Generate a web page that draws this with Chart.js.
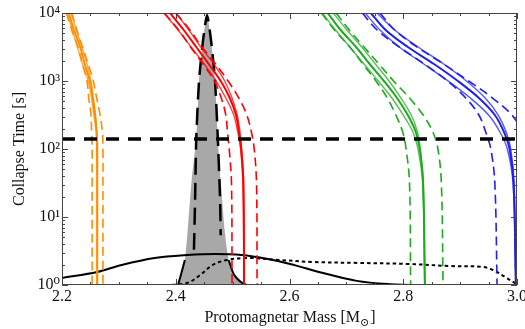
<!DOCTYPE html>
<html>
<head>
<meta charset="utf-8">
<title>Collapse time vs protomagnetar mass</title>
<script src="https://cdn.jsdelivr.net/npm/chart.js@4.4.1/dist/chart.umd.min.js"></script>
<style>
  html, body { margin: 0; padding: 0; background: #fff; }
  canvas { display: block; }
</style>
</head>
<body>
<canvas id="chart" width="525" height="329"></canvas>
<script>
// collapse times (s) at which every mass track is sampled
var trackTimes = [10000, 5623, 3162, 1778, 1000, 562, 316, 178, 100, 31.6, 1];

// orange tracks (masses, Msun)
var orangeDashLo = [2.208, 2.217, 2.228, 2.236, 2.244, 2.247, 2.251, 2.252, 2.253, 2.253, 2.253];
var orangeLo     = [2.209, 2.218, 2.227, 2.236, 2.246, 2.252, 2.256, 2.260, 2.261, 2.262, 2.262];
var orangeMid    = [2.212, 2.221, 2.232, 2.240, 2.249, 2.254, 2.258, 2.261, 2.262, 2.262, 2.262];
var orangeHi     = [2.216, 2.225, 2.235, 2.244, 2.251, 2.255, 2.259, 2.261, 2.262, 2.262, 2.262];
var orangeDashHi = [2.217, 2.226, 2.236, 2.246, 2.255, 2.261, 2.267, 2.271, 2.272, 2.272, 2.272];

// red tracks
var redDashLo = [2.380, 2.405, 2.426, 2.448, 2.468, 2.480, 2.488, 2.491, 2.494, 2.498, 2.499];
var redLo     = [2.379, 2.404, 2.427, 2.450, 2.471, 2.488, 2.502, 2.509, 2.514, 2.518, 2.520];
var redMid    = [2.390, 2.414, 2.436, 2.458, 2.479, 2.495, 2.506, 2.511, 2.515, 2.519, 2.520];
var redHi     = [2.400, 2.423, 2.444, 2.467, 2.486, 2.499, 2.508, 2.513, 2.516, 2.519, 2.520];
var redDashHi = [2.400, 2.425, 2.446, 2.470, 2.492, 2.511, 2.525, 2.533, 2.538, 2.542, 2.543];

// green tracks
var greenDashLo = [2.656, 2.679, 2.706, 2.729, 2.752, 2.772, 2.787, 2.799, 2.805, 2.811, 2.813];
var greenLo     = [2.658, 2.681, 2.706, 2.731, 2.756, 2.780, 2.800, 2.817, 2.826, 2.834, 2.838];
var greenMid    = [2.667, 2.690, 2.717, 2.741, 2.766, 2.789, 2.808, 2.822, 2.829, 2.835, 2.838];
var greenHi     = [2.677, 2.701, 2.727, 2.751, 2.775, 2.796, 2.814, 2.825, 2.830, 2.835, 2.838];
var greenDashHi = [2.682, 2.705, 2.731, 2.757, 2.783, 2.811, 2.835, 2.852, 2.861, 2.867, 2.870];

// blue tracks
var blueDashLo = [2.728, 2.754, 2.793, 2.837, 2.878, 2.910, 2.933, 2.945, 2.954, 2.961, 2.965];
var blueLo     = [2.733, 2.759, 2.793, 2.836, 2.879, 2.918, 2.950, 2.970, 2.983, 2.993, 2.998];
var blueMid    = [2.743, 2.769, 2.808, 2.854, 2.896, 2.933, 2.961, 2.977, 2.987, 2.994, 2.998];
var blueHi     = [2.754, 2.785, 2.826, 2.871, 2.911, 2.944, 2.967, 2.981, 2.989, 2.995, 2.998];
var blueDashHi = [2.759, 2.785, 2.824, 2.871, 2.915, 2.957, 2.991, 3.010, 3.023, 3.030, 3.033];

// narrow grey mass distribution
var greyMass = [2.404, 2.409, 2.416, 2.421, 2.428, 2.436, 2.441, 2.448, 2.455, 2.462, 2.469, 2.474, 2.479, 2.486, 2.493, 2.504, 2.525];
var greyTime = [1, 1.40, 2.33, 6.4, 35, 140, 1030, 3990, 9330, 3990, 1030, 140, 35, 6.4, 2.33, 1.36, 1];

// long-dashed fit over the grey distribution
var fitMass = [2.432, 2.434, 2.436, 2.441, 2.448, 2.455, 2.462, 2.469, 2.474, 2.478, 2.479];
var fitTime = [3.3, 17.8, 140, 1030, 3990, 9330, 3990, 1030, 140, 17.8, 5.4];

// solid outline at the foot of the grey distribution
var footLeftMass = [2.404, 2.409, 2.416];
var footLeftTime = [1, 1.40, 2.33];
var footRightMass = [2.493, 2.504, 2.525, 2.560];
var footRightTime = [2.33, 1.36, 1, 1];

// broad solid distribution
var broadMass = [2.200, 2.262, 2.305, 2.363, 2.421, 2.469, 2.516, 2.562, 2.601, 2.659, 2.718, 2.776, 2.829, 3.000];
var broadTime = [1.27, 1.55, 1.97, 2.49, 2.76, 2.86, 2.76, 2.41, 2.04, 1.50, 1.15, 1.03, 1.0, 1.0];

// dotted distribution
var dottedMass = [2.200, 2.380, 2.420, 2.443, 2.465, 2.490, 2.525, 2.583, 2.641, 2.724, 2.808, 2.882, 2.940, 2.961, 2.979, 3.000];
var dottedTime = [1.0, 1.0, 1.07, 1.40, 1.97, 2.33, 2.50, 2.33, 2.18, 2.11, 2.04, 1.90, 1.84, 1.61, 1.31, 1.03];

// horizontal reference time (s)
var thresholdTime = 140;
var thresholdMass = [2.2, 3.0];

var yLabels = {1: '10\u2070', 10: '10\u00B9', 100: '10\u00B2', 1000: '10\u00B3', 10000: '10\u2074'};

var SERIF = "'Liberation Serif', 'DejaVu Serif', serif";

function pairs(xs, ys) {
    var out = [];
    for (var i = 0; i < xs.length; i++) {
        out.push({x: xs[i], y: ys[i]});
    }
    return out;
}

function track(masses, color, width, dash, order) {
    return {
        data: pairs(masses, trackTimes),
        borderColor: color,
        borderWidth: width,
        borderDash: dash || [],
        pointRadius: 0,
        tension: 0.35,
        fill: false,
        order: order
    };
}

function band(c, dashLo, lo, mid, hi, dashHi) {
    var outer = 'rgba(' + c + ',0.75)';
    var full = 'rgb(' + c + ')';
    return [
        track(dashLo, full, 1.6, [9, 5], 2),
        track(dashHi, full, 1.6, [9, 5], 2),
        track(lo, outer, 1.4, null, 3),
        track(hi, outer, 1.4, null, 3),
        track(mid, full, 2, null, 1)
    ];
}

function blackLine(xs, ys, width, dash, tension, order) {
    return {
        data: pairs(xs, ys),
        borderColor: '#000',
        borderWidth: width,
        borderDash: dash || [],
        pointRadius: 0,
        tension: tension,
        fill: false,
        order: order
    };
}

var datasets = [];
datasets.push(blackLine(thresholdMass, [thresholdTime, thresholdTime], 3.5, [13, 9], 0, 0));
datasets = datasets.concat(band('255,140,0', orangeDashLo, orangeLo, orangeMid, orangeHi, orangeDashHi));
datasets = datasets.concat(band('255,0,0', redDashLo, redLo, redMid, redHi, redDashHi));
datasets = datasets.concat(band('30,170,30', greenDashLo, greenLo, greenMid, greenHi, greenDashHi));
datasets = datasets.concat(band('30,30,245', blueDashLo, blueLo, blueMid, blueHi, blueDashHi));
datasets.push(blackLine(broadMass, broadTime, 2, null, 0.35, 4));
datasets.push(blackLine(dottedMass, dottedTime, 2, [3.5, 3], 0.35, 4));
datasets.push(blackLine(fitMass, fitTime, 2.5, [17, 8], 0.2, 5));
datasets.push(blackLine(footLeftMass, footLeftTime, 2, null, 0.3, 5));
datasets.push(blackLine(footRightMass, footRightTime, 2, null, 0.3, 5));
datasets.push({
    data: pairs(greyMass, greyTime),
    borderColor: 'rgba(0,0,0,0)', borderWidth: 0, backgroundColor: '#a8a8a8',
    pointRadius: 0, tension: 0.2, fill: 'start', order: 6
});

// frame and inward tick marks
var frameTicks = {
    id: 'frameTicks',
    afterDatasetsDraw: function(chart) {
        var ctx = chart.ctx;
        var a = chart.chartArea;
        var xs = chart.scales.x;
        var ys = chart.scales.y;
        ctx.save();
        ctx.strokeStyle = '#444';
        ctx.lineWidth = 1;
        ctx.strokeRect(a.left + 0.5, a.top + 0.5, a.right - a.left - 1, a.bottom - a.top - 1);
        ctx.beginPath();
        for (var m = 0; m <= 16; m++) {
            var px = Math.round(xs.getPixelForValue(2.2 + m * 0.05)) + 0.5;
            var len = (m % 4 === 0) ? 6 : 3;
            ctx.moveTo(px, a.bottom); ctx.lineTo(px, a.bottom - len);
            ctx.moveTo(px, a.top); ctx.lineTo(px, a.top + len);
        }
        for (var d = 0; d < 4; d++) {
            for (var k = 1; k < 10; k++) {
                var py = Math.round(ys.getPixelForValue(k * Math.pow(10, d))) + 0.5;
                var l = (k === 1) ? 6 : 3;
                ctx.moveTo(a.left, py); ctx.lineTo(a.left + l, py);
                ctx.moveTo(a.right, py); ctx.lineTo(a.right - l, py);
            }
        }
        ctx.stroke();
        ctx.restore();
    },
    afterDraw: function(chart) {
        // x axis title with subscript sun symbol
        var ctx = chart.ctx;
        var a = chart.chartArea;
        ctx.save();
        ctx.fillStyle = '#111';
        ctx.textBaseline = 'alphabetic';
        var main = '16px ' + SERIF;
        var sub = '11px ' + SERIF;
        var t1 = 'Protomagnetar Mass [M';
        var t2 = '\u2299';
        var t3 = ']';
        ctx.font = main;
        var w1 = ctx.measureText(t1).width;
        var w3 = ctx.measureText(t3).width;
        ctx.font = sub;
        var w2 = ctx.measureText(t2).width;
        var x0 = (a.left + a.right) / 2 - (w1 + w2 + w3) / 2;
        var base = 322;
        ctx.font = main;
        ctx.fillText(t1, x0, base);
        ctx.font = sub;
        ctx.fillText(t2, x0 + w1, base + 4);
        ctx.font = main;
        ctx.fillText(t3, x0 + w1 + w2 + 1, base);
        ctx.restore();
    }
};

new Chart(document.getElementById('chart'), {
    type: 'line',
    data: {datasets: datasets},
    plugins: [frameTicks],
    options: {
        responsive: false,
        animation: false,
        devicePixelRatio: 1,
        layout: {padding: {left: 0, top: 13, right: 8, bottom: 0}},
        plugins: {legend: {display: false}, tooltip: {enabled: false}},
        scales: {
            x: {
                type: 'linear',
                min: 2.2,
                max: 3.0,
                grid: {display: false, drawTicks: false, tickLength: 0},
                border: {display: false},
                ticks: {
                    stepSize: 0.2,
                    padding: 2,
                    color: '#111',
                    font: {family: SERIF, size: 16},
                    maxRotation: 0,
                    callback: function(v) { return v.toFixed(1); }
                },
                afterFit: function(s) { s.height = 44; s.paddingLeft = 0; s.paddingRight = 0; }
            },
            y: {
                type: 'logarithmic',
                min: 1,
                max: 10000,
                grid: {display: false, drawTicks: false, tickLength: 0},
                border: {display: false},
                afterBuildTicks: function(s) {
                    s.ticks = [1, 10, 100, 1000, 10000].map(function(v) { return {value: v}; });
                },
                ticks: {
                    padding: 2,
                    color: '#111',
                    font: {family: SERIF, size: 16},
                    callback: function(v) { return yLabels[v] || ''; }
                },
                title: {
                    display: true,
                    text: 'Collapse Time [s]',
                    color: '#111',
                    font: {family: SERIF, size: 16},
                    padding: {top: 10, bottom: 0}
                },
                afterFit: function(s) { s.width = 62; s.paddingTop = 0; s.paddingBottom = 0; }
            }
        }
    }
});
</script>
</body>
</html>
